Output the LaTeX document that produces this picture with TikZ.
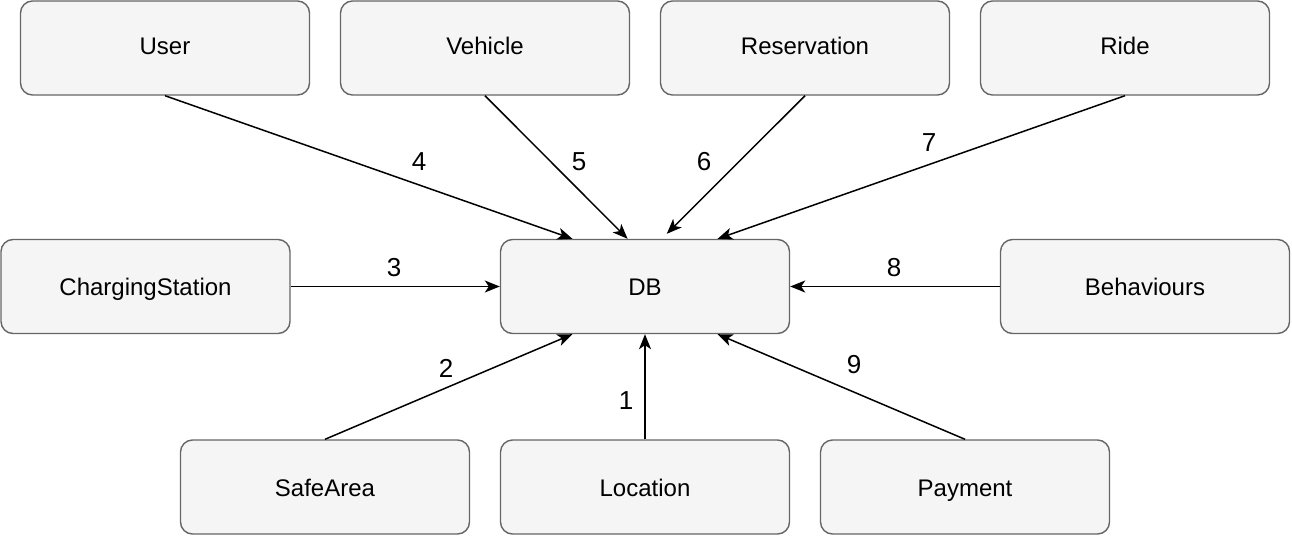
\documentclass[tikz,border=0pt]{standalone}
\usepackage{fontspec}
\setmainfont{Liberation Sans}
\usetikzlibrary{arrows.meta,calc}
\definecolor{boxfill}{HTML}{F5F5F5}
\definecolor{boxline}{HTML}{666666}
\tikzset{
  ent/.style={draw=boxline, fill=boxfill, line width=1.4pt, rounded corners=12pt,
    minimum width=289pt, minimum height=94pt, inner sep=0pt,
    text height=17pt, text depth=5pt,
    font=\fontsize{24}{28}\selectfont},
  entlow/.style={ent, text height=20pt, text depth=2pt},
  conn/.style={line width=1.5pt, -{Stealth[length=15pt,width=12pt,inset=4pt]}},
  lbl/.style={font=\fontsize{26}{30}\selectfont, inner sep=0pt}
}
\begin{document}
\begin{tikzpicture}[x=1pt,y=-1pt]
\useasboundingbox (0,0) rectangle (1292,538);
% top row
\node[ent] (user) at (165,48) {User};
\node[ent] (veh) at (485,48) {Vehicle};
\node[ent] (res) at (805,48) {Reservation};
\node[ent] (ride) at (1125,48) {Ride};
% middle row
\node[entlow] (cs) at (145.5,286.5) {ChargingStation};
\node[entlow] (db) at (645,286.5) {DB};
\node[entlow] (beh) at (1145,286.5) {Behaviours};
% bottom row
\node[entlow] (safe) at (325,487) {SafeArea};
\node[entlow] (loc) at (645,487) {Location};
\node[entlow] (pay) at (965,487) {Payment};
% end points on DB
\coordinate (t4) at ($(db.north west)!0.25!(db.north east)$);
\coordinate (t5) at ($(db.north west)!0.44!(db.north east)$);
\coordinate (t6) at ($(db.north west)!0.575!(db.north east)+(0,-5)$);
\coordinate (t7) at ($(db.north west)!0.75!(db.north east)$);
\coordinate (b2) at ($(db.south west)!0.25!(db.south east)$);
\coordinate (b9) at ($(db.south west)!0.75!(db.south east)$);
% connectors
\draw[conn] (user.south) -- (t4);
\draw[conn] (veh.south) -- (t5);
\draw[conn] (res.south) -- (t6);
\draw[conn] (ride.south) -- (t7);
\draw[conn] (cs.east) -- (db.west);
\draw[conn] (beh.west) -- (db.east);
\draw[conn] (safe.north) -- (b2);
\draw[conn] (loc.north) -- (db.south);
\draw[conn] (pay.north) -- (b9);
% labels
\node[lbl] (l4) at (419,162) {4};
\node[lbl] (l5) at (579,162) {5};
\node[lbl] (l6) at (704,162) {6};
\node[lbl] (l7) at (929,143) {7};
\node[lbl] (l3) at (394,268) {3};
\node[lbl] (l8) at (894,268) {8};
\node[lbl] (l2) at (446,368) {2};
\node[lbl] (l1) at (626,401) {1};
\node[lbl] (l9) at (854,365) {9};
\end{tikzpicture}
\end{document}
